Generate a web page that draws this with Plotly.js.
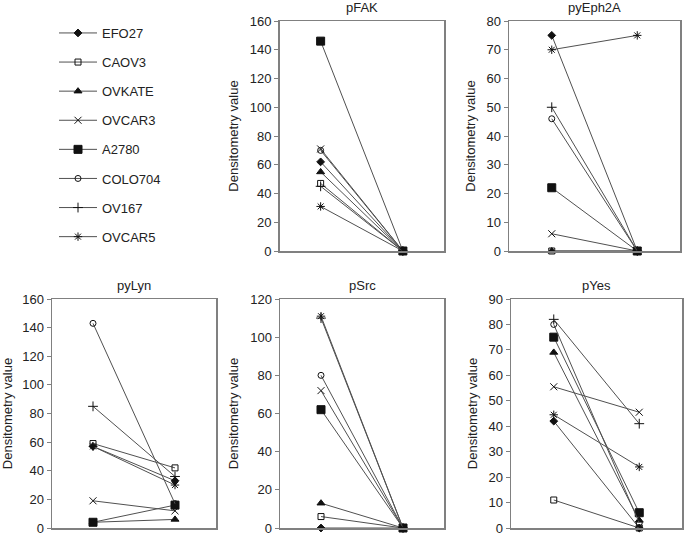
<!DOCTYPE html>
<html>
<head>
<meta charset="utf-8">
<script src="https://cdn.plot.ly/plotly-3.0.1.min.js"></script>
<style>html,body{margin:0;padding:0;background:#fff;}#chart{width:685px;height:538px;}</style>
</head>
<body>
<div id="chart"></div>
<script>
// ---- data ----
const cellLines = ['EFO27','CAOV3','OVKATE','OVCAR3','A2780','COLO704','OV167','OVCAR5'];
const timepoints = ['t0','t1'];
const panelNames = ['pFAK','pyEph2A','pyLyn','pSrc','pYes'];

const pFAK_first   = [62, 47, 55, 71, 146, 70, 45, 31];
const pFAK_second  = [0, 0, 0, 0, 0, 0, 0, 0];
const pyEph2A_first  = [75, 0, 0, 6, 22, 46, 50, 70];
const pyEph2A_second = [0, 0, 0, 0, 0, 0, 0, 75];
const pyLyn_first  = [57, 59, 4, 19, 4, 143, 85, 57];
const pyLyn_second = [33, 42, 6, 12, 16, 17, 36, 30];
const pSrc_first   = [0, 6, 13, 72, 62, 80, 110, 111];
const pSrc_second  = [0, 0, 0, 0, 0, 0, 0, 0];
const pYes_first   = [42, 11, 69, 55.5, 75, 80, 82, 44.5];
const pYes_second  = [0, 0, 3, 45.5, 6, 2, 41, 24];

const yMax = [160, 80, 160, 120, 90];
const yStep = [20, 10, 20, 20, 10];

// ---- styles ----
const symbols = ['diamond','square-open','triangle-up','x-thin-open','square','circle-open','cross-thin-open','asterisk-open'];
const sizes = [6, 6, 7, 7, 8, 6, 7, 7];

const panels = [
  {first: pFAK_first, second: pFAK_second},
  {first: pyEph2A_first, second: pyEph2A_second},
  {first: pyLyn_first, second: pyLyn_second},
  {first: pSrc_first, second: pSrc_second},
  {first: pYes_first, second: pYes_second}
];

const W = 685, H = 538;
const px = (a,b) => [a/W, b/W];
const py = (top,bot) => [(H-bot)/H, (H-top)/H];
const xDom = [px(279.5,444), px(509,680), px(52,216), px(280,444), px(511,682)];
const yDom = [py(21,251), py(21,251), py(299,528), py(299,528), py(299,528)];

const traces = [];
panels.forEach((p, k) => {
  const ax = k === 0 ? '' : String(k+1);
  cellLines.forEach((name, i) => {
    traces.push({
      type: 'scatter', mode: 'lines+markers',
      x: timepoints, y: [p.first[i], p.second[i]],
      xaxis: 'x'+ax, yaxis: 'y'+ax,
      name: name, legendgroup: name, showlegend: k === 0,
      cliponaxis: false,
      line: {color: '#505050', width: 1},
      marker: {symbol: symbols[i], size: sizes[i], color: '#111',
               line: {color: '#111', width: 1}}
    });
  });
});

const font = {family: '"Liberation Sans", Arial, Helvetica, sans-serif', size: 13, color: '#222'};
const layout = {
  width: W, height: H,
  margin: {l:0, r:0, t:0, b:0},
  paper_bgcolor: '#fff', plot_bgcolor: '#fff',
  font: font,
  showlegend: true,
  legend: {x: 54/W, y: 1-18/H, xanchor: 'left', yanchor: 'top',
           traceorder: 'grouped', tracegroupgap: 9.2, itemwidth: 38,
           font: {family: font.family, size: 13, color: '#222'},
           bgcolor: 'rgba(0,0,0,0)'},
  annotations: []
};

panels.forEach((p, k) => {
  const ax = k === 0 ? '' : String(k+1);
  layout['xaxis'+ax] = {
    domain: xDom[k], anchor: 'y'+ax, type: 'category',
    range: [-0.5, 1.5], showticklabels: false, ticks: '',
    showgrid: false, zeroline: false, showline: true, mirror: true,
    linecolor: '#808080', linewidth: 1.5
  };
  layout['yaxis'+ax] = {
    domain: yDom[k], anchor: 'x'+ax,
    range: [0, yMax[k]], dtick: yStep[k], tick0: 0,
    ticks: 'outside', ticklen: 4, tickcolor: '#808080', tickwidth: 1,
    showgrid: false, zeroline: false, showline: true, mirror: true,
    linecolor: '#808080', linewidth: 1.5,
    tickfont: font,
    title: {text: 'Densitometry value', font: font, standoff: 8}
  };
  layout.annotations.push({
    text: panelNames[k], xref: 'paper', yref: 'paper',
    x: (xDom[k][0]+xDom[k][1])/2, y: yDom[k][1] + 4/H,
    xanchor: 'center', yanchor: 'bottom', showarrow: false,
    font: font
  });
});

Plotly.newPlot('chart', traces, layout, {displayModeBar: false, staticPlot: true});
</script>
</body>
</html>
